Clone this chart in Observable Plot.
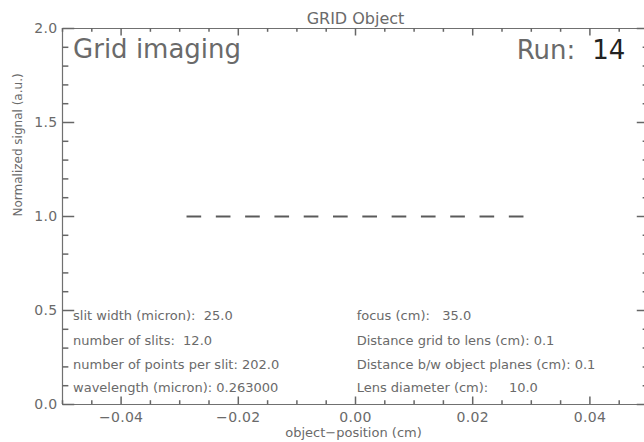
<!DOCTYPE html>
<html><head><meta charset="utf-8">
<script src="https://cdn.jsdelivr.net/npm/d3@7"></script>
<script src="https://cdn.jsdelivr.net/npm/@observablehq/plot@0.6"></script>
<style>
body{margin:0;background:#fff}
svg text{white-space:pre}
g[aria-label="notes"] text{letter-spacing:0.9px}
g[aria-label="header"] text{letter-spacing:1px}
g[aria-label="title"] text{letter-spacing:0.8px}
g[aria-label="xtitle"] text{letter-spacing:0.8px}
g[aria-label="x-axis tick label"] text, g[aria-label="y-axis tick label"] text{letter-spacing:0.3px}
</style>
</head><body><div id="chart"></div>
<script>
// ---- data ----
const slitStart = [-0.02875,-0.02375,-0.01875,-0.01375,-0.00875,-0.00375,0.00125,0.00625,0.01125,0.01625,0.02125,0.02625];
const slitEnd   = [-0.02625,-0.02125,-0.01625,-0.01125,-0.00625,-0.00125,0.00375,0.00875,0.01375,0.01875,0.02375,0.02875];
const slitSignal = [1,1,1,1,1,1,1,1,1,1,1,1];

const xTickValues = [-0.04,-0.02,0,0.02,0.04];
const xTickLabels = ["\u22120.04","\u22120.02","0.00","0.02","0.04"];
const yTickValues = [0,0.5,1,1.5,2];
const yTickLabels = ["0.0","0.5","1.0","1.5","2.0"];
const xMinorTicks = [-0.05,-0.045,-0.04,-0.035,-0.03,-0.025,-0.02,-0.015,-0.01,-0.005,0,0.005,0.01,0.015,0.02,0.025,0.03,0.035,0.04,0.045,0.05];
const yMinorTicks = [0,0.1,0.2,0.3,0.4,0.5,0.6,0.7,0.8,0.9,1,1.1,1.2,1.3,1.4,1.5,1.6,1.7,1.8,1.9,2];

const titleText = "GRID Object";
const xTitle = "object\u2212position (cm)";
const yTitle = "Normalized signal (a.u.)";
const headLeft = "Grid imaging";
const runLabel = "Run:";
const runNumber = "14";
const leftNotes = ["slit width (micron):  25.0","number of slits:  12.0","number of points per slit: 202.0","wavelength (micron): 0.263000"];
const rightNotes = ["focus (cm):   35.0","Distance grid to lens (cm): 0.1","Distance b/w object planes (cm): 0.1","Lens diameter (cm):     10.0"];

// ---- layout helpers (positions, not data) ----
const noteY = [0.448,0.319,0.191,0.064];
const slits = slitStart.map((s,i)=>({x1:s,x2:slitEnd[i],y:slitSignal[i]}));
const axisCol = "#707070", textCol = "#6a6a6a", tickCol = "#666666";
const isMajorX = v => xTickValues.some(t=>Math.abs(t-v)<1e-9);
const isMajorY = v => yTickValues.some(t=>Math.abs(t-v)<1e-9);
const xMinorOnly = xMinorTicks.filter(v=>!isMajorX(v));
const yMinorOnly = yMinorTicks.filter(v=>!isMajorY(v));
const tw = 1.5;
const frameH = 442 - 28 - 38;

const chart = Plot.plot({
  width: 644, height: 442,
  marginLeft: 62, marginTop: 28, marginBottom: 38, marginRight: 0,
  x: {domain: [-0.05, 0.05], range: [62, 648]},
  y: {domain: [0, 2]},
  style: {fontFamily: "DejaVu Sans", background: "#fff", color: textCol},
  marks: [
    Plot.ruleY([0, 2], {stroke: axisCol, strokeWidth: 1.2}),
    Plot.ruleX([-0.05, 0.05], {stroke: axisCol, strokeWidth: 1.2}),
    // x ticks, pointing inward from bottom and top
    Plot.tickX(xTickValues, {x: d=>d, insetTop: frameH - 7.5, stroke: tickCol, strokeWidth: tw}),
    Plot.tickX(xMinorOnly, {x: d=>d, insetTop: frameH - 3.8, stroke: tickCol, strokeWidth: tw}),
    Plot.tickX(xTickValues, {x: d=>d, insetBottom: frameH - 7.5, stroke: tickCol, strokeWidth: tw}),
    Plot.tickX(xMinorOnly, {x: d=>d, insetBottom: frameH - 3.8, stroke: tickCol, strokeWidth: tw}),
    // y ticks, pointing inward from left and right
    Plot.link(yTickValues, {y1: d=>d, y2: d=>d, x1: -0.05, x2: -0.048, stroke: tickCol, strokeWidth: tw}),
    Plot.link(yMinorOnly, {y1: d=>d, y2: d=>d, x1: -0.05, x2: -0.049, stroke: tickCol, strokeWidth: tw}),
    Plot.link(yTickValues, {y1: d=>d, y2: d=>d, x1: 0.05, x2: 0.048, stroke: tickCol, strokeWidth: tw}),
    Plot.link(yMinorOnly, {y1: d=>d, y2: d=>d, x1: 0.05, x2: 0.049, stroke: tickCol, strokeWidth: tw}),
    Plot.axisX(xTickValues, {tickSize: 0, tickPadding: 8, fontSize: 14, tickFormat: (d,i)=>xTickLabels[i], fill: textCol, label: null}),
    Plot.axisY(yTickValues, {tickSize: 0, tickPadding: 5, fontSize: 14, tickFormat: (d,i)=>yTickLabels[i], fill: textCol, label: null}),
    Plot.text([xTitle], {frameAnchor: "bottom", dy: 32, fontSize: 13, fill: textCol, ariaLabel: "xtitle"}),
    Plot.text([yTitle], {frameAnchor: "left", dx: -44, rotate: -90, fontSize: 12, fill: textCol}),
    Plot.text([titleText], {x: 0, y: 2, dy: -10, fontSize: 16, fill: textCol, ariaLabel: "title"}),
    Plot.text([headLeft], {x: -0.0482, y: 1.845, textAnchor: "start", lineAnchor: "bottom", fontSize: 26, fill: textCol, ariaLabel: "header"}),
    Plot.text([runLabel], {x: 0.0375, y: 1.84, textAnchor: "end", lineAnchor: "bottom", fontSize: 26, fill: textCol, ariaLabel: "header"}),
    Plot.text([runNumber], {x: 0.0404, y: 1.84, textAnchor: "start", lineAnchor: "bottom", fontSize: 26, fill: "#222", ariaLabel: "header"}),
    Plot.text(leftNotes, {x: -0.0482, y: (d,i)=>noteY[i], textAnchor: "start", lineAnchor: "bottom", fontSize: 13, fill: textCol, ariaLabel: "notes"}),
    Plot.text(rightNotes, {x: 0.0002, y: (d,i)=>noteY[i], textAnchor: "start", lineAnchor: "bottom", fontSize: 13, fill: textCol, ariaLabel: "notes"}),
    Plot.ruleY(slits, {y: "y", x1: "x1", x2: "x2", stroke: "#5a5a5a", strokeWidth: 2})
  ]
});
document.getElementById("chart").append(chart);
</script>
</body></html>
